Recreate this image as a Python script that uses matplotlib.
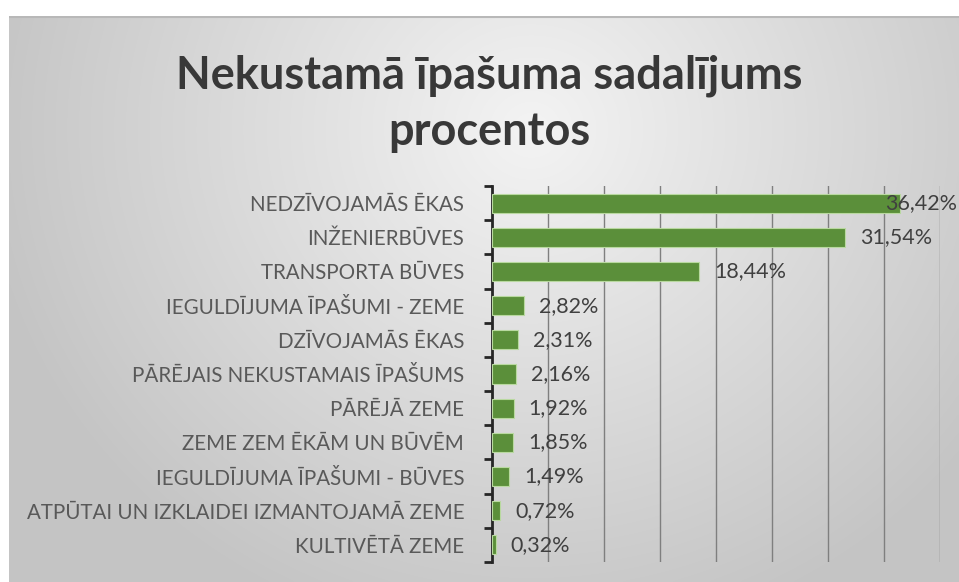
import numpy as np
import matplotlib
matplotlib.use("Agg")
import matplotlib.pyplot as plt

categories = [
    "NEDZĪVOJAMĀS ĒKAS",
    "INŽENIERBŪVES",
    "TRANSPORTA BŪVES",
    "IEGULDĪJUMA ĪPAŠUMI - ZEME",
    "DZĪVOJAMĀS ĒKAS",
    "PĀRĒJAIS NEKUSTAMAIS ĪPAŠUMS",
    "PĀRĒJĀ ZEME",
    "ZEME ZEM ĒKĀM UN BŪVĒM",
    "IEGULDĪJUMA ĪPAŠUMI - BŪVES",
    "ATPŪTAI UN IZKLAIDEI IZMANTOJAMĀ ZEME",
    "KULTIVĒTĀ ZEME",
]
values = [36.42, 31.54, 18.44, 2.82, 2.31, 2.16, 1.92, 1.85, 1.49, 0.72, 0.32]
value_labels = ["36,42%", "31,54%", "18,44%", "2,82%", "2,31%", "2,16%",
                "1,92%", "1,85%", "1,49%", "0,72%", "0,32%"]
title = "Nekustamā īpašuma sadalījums\nprocentos"

W, H = 959, 582
fig = plt.figure(figsize=(W / 100, H / 100), dpi=100)
fig.patch.set_facecolor("white")

# background chart area with radial gradient
bg = fig.add_axes([9 / W, 0, (W - 9) / W, (H - 16) / H], zorder=-10)
ny, nx = 300, 500
yy, xx = np.mgrid[0:1:ny * 1j, 0:1:nx * 1j]
r = np.sqrt(((xx - 0.55) / 0.6) ** 2 + ((yy - 0.2) / 0.95) ** 2)
g = np.clip(0.955 - 0.19 * r, 0.77, 1.0)
img = np.dstack([g, g, g])
bg.imshow(img, aspect="auto", extent=[0, 1, 1, 0], interpolation="bicubic")
bg.set_xlim(0, 1)
bg.set_ylim(1, 0)
bg.axis("off")
bg.plot([0, 1], [0.002, 0.002], color="#b8b8b8", lw=1.5)

fnt = "Lato"
left, right = 492 / W, 940 / W
top, bottom = 1 - 186 / H, 1 - 562 / H
ax = fig.add_axes([left, bottom, right - left, top - bottom])
ax.set_facecolor("none")

y = np.arange(len(categories))
ax.barh(y, values, height=0.56, color="#5B8F3A", edgecolor="#b9d9a0",
        linewidth=0.8, zorder=3)
ax.set_xlim(0, 40)
ax.set_ylim(len(categories) - 0.5, -0.5)
ax.set_xticks(np.arange(5, 41, 5))
ax.xaxis.grid(True, color="#7f7f7f", linewidth=1.0, zorder=0)
ax.tick_params(axis="x", length=0, labelbottom=False)
ax.set_yticks(y)
ax.set_yticklabels(categories, fontfamily=fnt, fontsize=14.8, color="#595959")
ax.tick_params(axis="y", which="major", length=0, pad=20)
ax.set_yticks(np.arange(-0.5, len(categories), 1.0), minor=True)
ax.tick_params(axis="y", which="minor", length=6, width=2, color="#262626",
               direction="out")
for s in ["top", "right", "bottom"]:
    ax.spines[s].set_visible(False)
ax.spines["left"].set_color("#262626")
ax.spines["left"].set_linewidth(2)
ax.set_axisbelow(True)

anns = []
for yi, v, lab in zip(y, values, value_labels):
    a = ax.annotate(lab, xy=(v, yi), xytext=(11, 0), textcoords="offset points",
                    ha="left", va="center", fontfamily=fnt, fontsize=15.5,
                    color="#404040", zorder=5, annotation_clip=False)
    anns.append(a)

fig.text(489 / W, 1 - 104 / H, title, ha="center", va="center",
         fontfamily=fnt, fontweight="bold", fontsize=32.5, color="#383838",
         linespacing=1.42)

fig.canvas.draw()
renderer = fig.canvas.get_renderer()
for a in anns:
    bb = a.get_window_extent(renderer)
    if bb.x1 > W - 2:
        shift = (bb.x1 - (W - 2)) * 72 / 100
        a.set_position((11 - shift, 0))

fig.savefig("out.png", dpi=100, facecolor="white")
